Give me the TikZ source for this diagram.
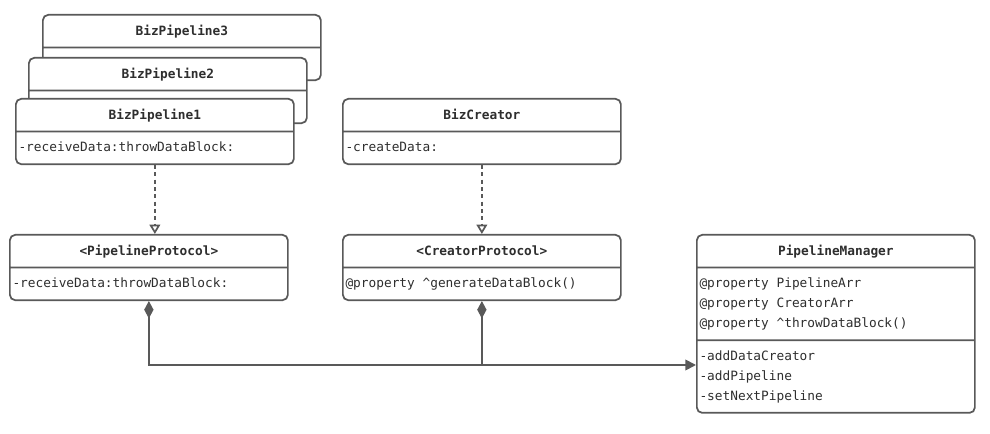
\documentclass[tikz,border=0pt]{standalone}
\usepackage{fontspec}
\newfontfamily\umlmono{DejaVu Sans Mono}
\usetikzlibrary{shapes.multipart,arrows.meta}
\definecolor{umlline}{HTML}{595959}
\definecolor{umltext}{HTML}{2E2E2E}
\tikzset{
  umlclass/.style={rectangle split, rectangle split parts=2,
    rectangle split part align={center,left}, align=left,
    draw=umlline, line width=1.3pt, rounded corners=4pt, fill=white,
    minimum width=208.5pt, inner xsep=2pt, inner ysep=4.1pt,
    font=\umlmono\fontsize{9.6}{15}\selectfont, text=umltext,
    anchor=north west},
  realize/.style={draw=umlline, line width=1.3pt, dash pattern=on 3pt off 2.5pt,
    -{Triangle[open,length=7pt,width=8pt]}},
  compose/.style={draw=umlline, line width=1.3pt,
    {Diamond[length=13pt,width=7pt]}-{Triangle[length=8pt,width=8pt]}},
  part/.style={draw=umlline, line width=1.3pt, {Diamond[length=13pt,width=7pt]}-}
}
\begin{document}
\begin{tikzpicture}[x=0.75pt,y=-0.75pt]
\useasboundingbox (0,0) rectangle (990,434);
% stacked pipelines
\node[umlclass] (bp3) at (42,14) {\strut\textbf{BizPipeline3}\nodepart{two}\strut};
\node[umlclass] (bp2) at (28,57) {\strut\textbf{BizPipeline2}\nodepart{two}\strut};
\node[umlclass] (bp1) at (15,98) {\strut\textbf{BizPipeline1}\nodepart{two}\strut-receiveData:throwDataBlock:};
\node[umlclass] (bc) at (342,98) {\strut\textbf{BizCreator}\nodepart{two}\strut-createData:};
% protocols
\node[umlclass] (pp) at (9,234) {\strut\textbf{<PipelineProtocol>}\nodepart{two}\strut-receiveData:throwDataBlock:};
\node[umlclass] (cp) at (342,234) {\strut\textbf{<CreatorProtocol>}\nodepart{two}\strut@property \textasciicircum generateDataBlock()};
% manager
\node[umlclass, rectangle split parts=3, rectangle split part align={center,left,left}] (pm) at (696,234)
  {\strut\textbf{PipelineManager}
   \nodepart{two}\strut@property PipelineArr\\\strut@property CreatorArr\\\strut@property \textasciicircum throwDataBlock()
   \nodepart{three}\strut-addDataCreator\\\strut-addPipeline\\\strut-setNextPipeline};
\coordinate (join) at (cp.south |- 0,365);
\draw[realize] (bp1.south) -- (bp1.south |- pp.north);
\draw[realize] (bc.south) -- (cp.north);
\draw[compose] (pp.south) |- (pm.west |- join);
\draw[part] (cp.south) -- (join);
\end{tikzpicture}
\end{document}
